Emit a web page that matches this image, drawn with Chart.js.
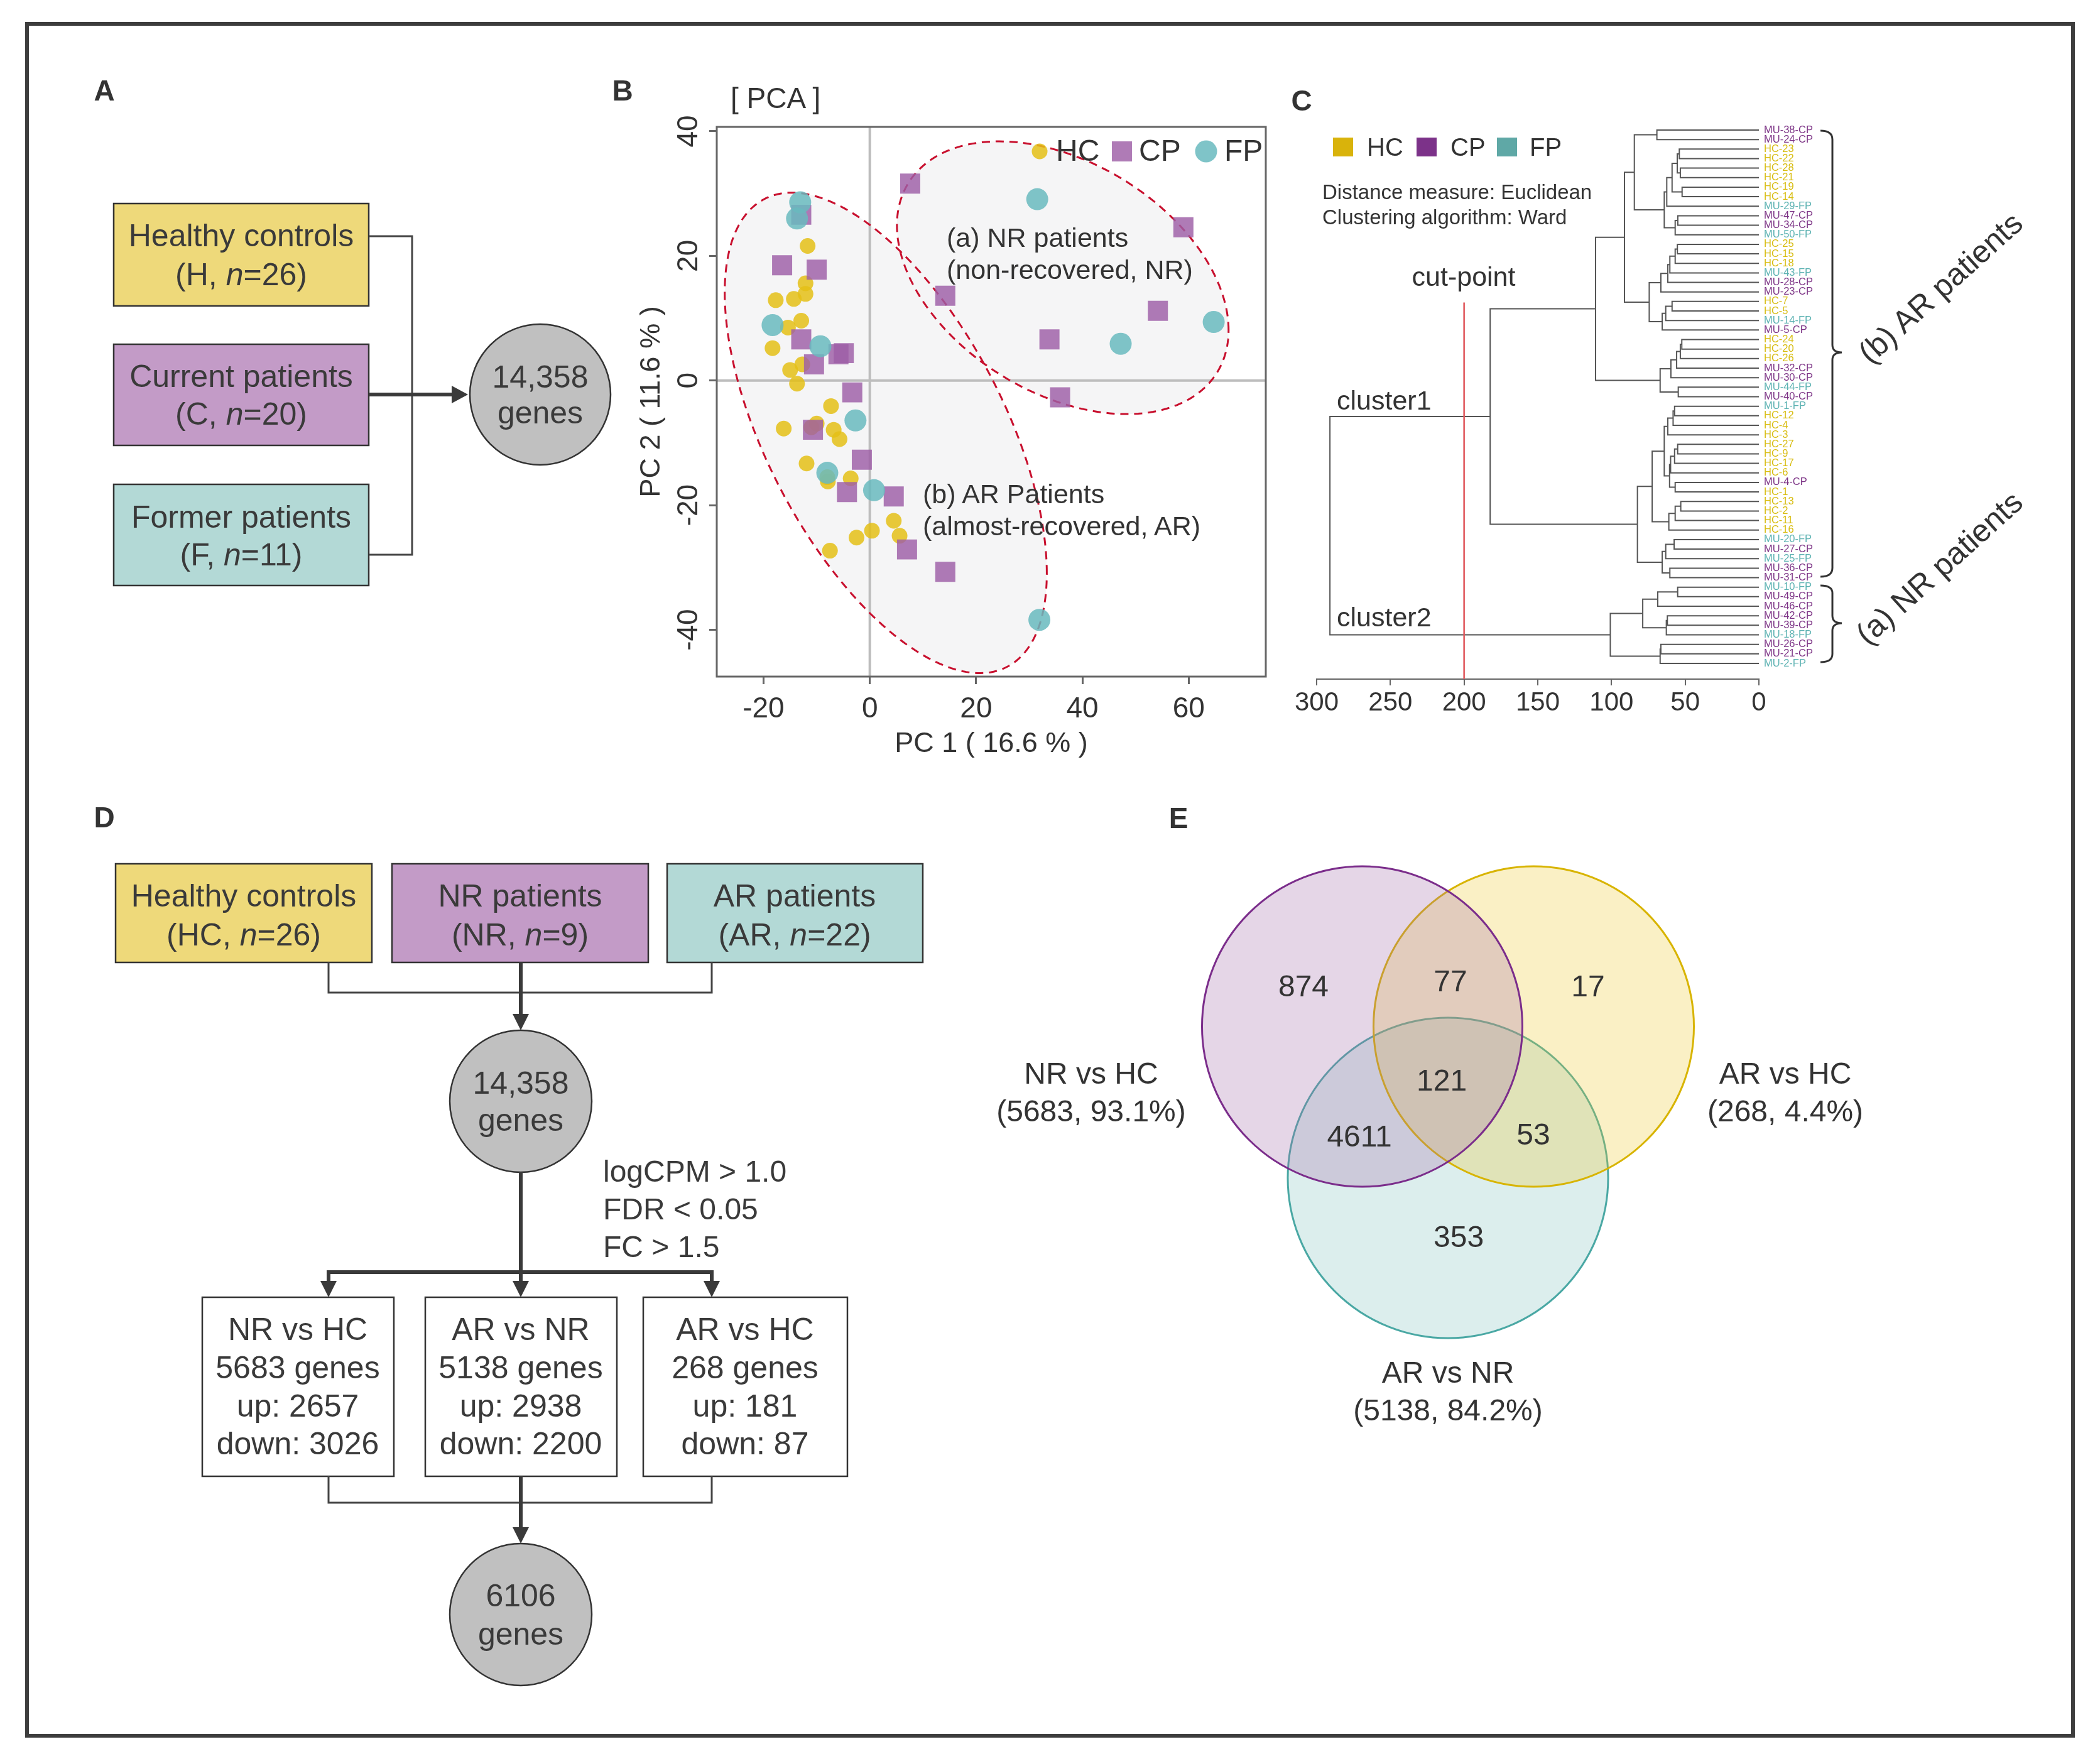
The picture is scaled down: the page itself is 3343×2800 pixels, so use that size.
<!DOCTYPE html>
<html>
<head>
<meta charset="utf-8">
<title>Transcriptome overview</title>
<script src="https://cdn.jsdelivr.net/npm/chart.js@4.4.1/dist/chart.umd.min.js"></script>
<style>
  html, body { margin: 0; padding: 0; background: #fff; }
  body { position: relative; width: 3343px; height: 2800px; overflow: hidden; font-family: "Liberation Sans", Arial, sans-serif; }
  canvas { position: absolute; }
  #deco { position: absolute; left: 0; top: 0; pointer-events: none; z-index: 2; }
</style>
</head>
<body>
<canvas id="pca-chart" width="1060" height="1110" style="left:990px;top:120px"></canvas>
<canvas id="dendro-chart" width="920" height="1001" style="left:2040px;top:180px"></canvas>
<canvas id="venn-chart" width="1650" height="1050" style="left:1500px;top:1290px"></canvas>

<svg id="deco" width="3343" height="2800" font-family="Liberation Sans, Arial, sans-serif" fill="#333">
  <!-- outer frame -->
  <rect x="43" y="38" width="3257" height="2725" fill="none" stroke="#3d3d3d" stroke-width="6"/>

  <!-- panel letters -->
  <g font-size="46" font-weight="bold" text-anchor="middle" fill="#333">
    <text x="166" y="160">A</text>
    <text x="991" y="160">B</text>
    <text x="2072" y="176">C</text>
    <text x="166" y="1317">D</text>
    <text x="1876" y="1318">E</text>
  </g>

  <!-- panel A -->
  <g stroke="#333" stroke-width="2.5">
    <rect x="181" y="324" width="406" height="163" fill="#eed97a"/>
    <rect x="181" y="548" width="406" height="161" fill="#c39bc7"/>
    <rect x="181" y="771" width="406" height="161" fill="#b3d9d6"/>
    <circle cx="860" cy="628" r="112" fill="#c0c0c0"/>
  </g>
  <polyline points="587,376 656,376 656,883 587,883" fill="none" stroke="#444" stroke-width="3"/>
  <line x1="587" y1="628" x2="722" y2="628" stroke="#3a3a3a" stroke-width="6"/>
  <polygon points="745,628 719,614 719,642" fill="#3a3a3a"/>
  <g font-size="50" text-anchor="middle" fill="#3a3a3a">
    <text x="384" y="392">Healthy controls</text>
    <text x="384" y="454">(H, <tspan font-style="italic">n</tspan>=26)</text>
    <text x="384" y="616">Current patients</text>
    <text x="384" y="676">(C, <tspan font-style="italic">n</tspan>=20)</text>
    <text x="384" y="840">Former patients</text>
    <text x="384" y="900">(F, <tspan font-style="italic">n</tspan>=11)</text>
    <text x="860" y="617">14,358</text>
    <text x="860" y="674">genes</text>
  </g>

  <!-- panel B texts -->
  <text x="1163" y="172" font-size="46" fill="#333">[ PCA ]</text>
  <g font-size="43" fill="#333">
    <text x="1507" y="393">(a) NR patients</text>
    <text x="1507" y="444">(non-recovered, NR)</text>
    <text x="1469" y="801">(b) AR Patients</text>
    <text x="1469" y="852">(almost-recovered, AR)</text>
  </g>

  <!-- panel C texts -->
  <rect x="2122" y="219" width="32" height="30" fill="#d9b30b"/>
  <rect x="2255" y="219" width="32" height="30" fill="#7c3289"/>
  <rect x="2383" y="219" width="32" height="30" fill="#5fa8a6"/>
  <g font-size="40" fill="#333">
    <text x="2176" y="248">HC</text>
    <text x="2309" y="248">CP</text>
    <text x="2435" y="248">FP</text>
  </g>
  <g font-size="33" fill="#333">
    <text x="2105" y="317">Distance measure: Euclidean</text>
    <text x="2105" y="357">Clustering algorithm: Ward</text>
  </g>
  <g font-size="43" fill="#333">
    <text x="2330" y="455" text-anchor="middle">cut-point</text>
    <text x="2128" y="652">cluster1</text>
    <text x="2128" y="997">cluster2</text>
  </g>
  <g fill="none" stroke="#333" stroke-width="3">
    <path d="M2898 208 Q2917 208 2917 222 L2917 549 Q2917 561 2932 561 Q2917 561 2917 573 L2917 904 Q2917 918 2898 918"/>
    <path d="M2898 932 Q2917 932 2917 944 L2917 980 Q2917 992 2932 992 Q2917 992 2917 1004 L2917 1041 Q2917 1054 2898 1054"/>
  </g>
  <g font-size="50" fill="#333" text-anchor="middle">
    <text transform="translate(3089,458) rotate(-42)" x="0" y="17">(b) AR patients</text>
    <text transform="translate(3087,904) rotate(-42)" x="0" y="17">(a) NR patients</text>
  </g>

  <!-- panel D -->
  <g stroke="#333" stroke-width="2.5">
    <rect x="184" y="1375" width="408" height="157" fill="#eed97a"/>
    <rect x="624" y="1375" width="408" height="157" fill="#c39bc7"/>
    <rect x="1062" y="1375" width="407" height="157" fill="#b3d9d6"/>
    <rect x="322" y="2065" width="305" height="285" fill="#fff"/>
    <rect x="677" y="2065" width="305" height="285" fill="#fff"/>
    <rect x="1024" y="2065" width="325" height="285" fill="#fff"/>
    <circle cx="829" cy="1753" r="113" fill="#c0c0c0"/>
    <circle cx="829" cy="2570" r="113" fill="#c0c0c0"/>
  </g>
  <g fill="none" stroke="#444" stroke-width="3">
    <polyline points="523,1532 523,1580 1133,1580 1133,1532"/>
    <polyline points="523,2350 523,2392 1133,2392 1133,2350"/>
  </g>
  <g stroke="#3a3a3a" stroke-width="6" fill="none">
    <line x1="829" y1="1532" x2="829" y2="1616"/>
    <line x1="829" y1="1866" x2="829" y2="2025"/>
    <line x1="520" y1="2025" x2="1136" y2="2025"/>
    <line x1="523" y1="2025" x2="523" y2="2042"/>
    <line x1="829" y1="2025" x2="829" y2="2042"/>
    <line x1="1133" y1="2025" x2="1133" y2="2042"/>
    <line x1="829" y1="2350" x2="829" y2="2433"/>
  </g>
  <g fill="#3a3a3a">
    <polygon points="816,1614 842,1614 829,1640"/>
    <polygon points="510,2039 536,2039 523,2065"/>
    <polygon points="816,2039 842,2039 829,2065"/>
    <polygon points="1120,2039 1146,2039 1133,2065"/>
    <polygon points="816,2431 842,2431 829,2457"/>
  </g>
  <g font-size="50" text-anchor="middle" fill="#3a3a3a">
    <text x="388" y="1443">Healthy controls</text>
    <text x="388" y="1505">(HC, <tspan font-style="italic">n</tspan>=26)</text>
    <text x="828" y="1443">NR patients</text>
    <text x="828" y="1505">(NR, <tspan font-style="italic">n</tspan>=9)</text>
    <text x="1265" y="1443">AR patients</text>
    <text x="1265" y="1505">(AR, <tspan font-style="italic">n</tspan>=22)</text>
    <text x="829" y="1741">14,358</text>
    <text x="829" y="1800">genes</text>
    <text x="474" y="2133">NR vs HC</text>
    <text x="474" y="2194">5683 genes</text>
    <text x="474" y="2255">up: 2657</text>
    <text x="474" y="2315">down: 3026</text>
    <text x="829" y="2133">AR vs NR</text>
    <text x="829" y="2194">5138 genes</text>
    <text x="829" y="2255">up: 2938</text>
    <text x="829" y="2315">down: 2200</text>
    <text x="1186" y="2133">AR vs HC</text>
    <text x="1186" y="2194">268 genes</text>
    <text x="1186" y="2255">up: 181</text>
    <text x="1186" y="2315">down: 87</text>
    <text x="829" y="2557">6106</text>
    <text x="829" y="2618">genes</text>
  </g>
  <g font-size="48" fill="#3a3a3a">
    <text x="960" y="1881">logCPM &gt; 1.0</text>
    <text x="960" y="1941">FDR &lt; 0.05</text>
    <text x="960" y="2001">FC &gt; 1.5</text>
  </g>
</svg>

<script>
// ---- data: PCA scores (PC1, PC2) ----
const hcPC = [
  [-11.7, 21.6], [-12.1, 15.6], [-17.7, 12.9], [-14.3, 13.1], [-12.1, 13.9], [-12.9, 9.6],
  [-15.4, 8.5], [-18.3, 5.2], [-15.0, 1.7], [-12.7, 2.6], [-13.7, -0.5], [-7.3, -4.1],
  [-16.2, -7.7], [-10.0, -6.9], [-6.8, -7.9], [-5.7, -9.4], [-11.9, -13.3], [-7.9, -16.2],
  [-3.6, -15.7], [4.5, -22.5], [5.6, -24.9], [0.4, -24.1], [-2.5, -25.2], [-7.5, -27.3],
  [-11.0, -7.5], [-8.0, -15.5]
];
const cpPC = [
  [7.6, 31.6], [59.0, 24.6], [-16.5, 18.5], [-10.0, 17.8], [14.2, 13.6], [54.2, 11.2],
  [33.8, 6.6], [-12.9, 6.6], [-5.9, 4.2], [-4.9, 4.4], [-10.5, 2.6], [-12.9, 26.6],
  [-3.3, -1.9], [35.8, -2.7], [-10.7, -7.9], [-1.5, -12.7], [-4.3, -17.9], [4.5, -18.6],
  [7.0, -27.1], [14.2, -30.7]
];
const fpPC = [
  [31.5, 29.1], [-13.1, 28.6], [-13.7, 26.0], [-18.3, 8.9], [-9.3, 5.5], [47.2, 5.9],
  [64.7, 9.4], [-2.7, -6.4], [-8.0, -14.8], [0.8, -17.6], [31.9, -38.4]
];
const pcaXTicks = [-20, 0, 20, 40, 60];
const pcaYTicks = [-40, -20, 0, 20, 40];
// group ellipses: centre and two conjugate half-axes, in PC units
const groupEllipses = [
  { c: [36.3, 16.5], a: [31.2, -8.4], b: [0, 20.2] },
  { c: [3.0, -8.4], a: [30.3, -22.5], b: [0, 31.3] }
];

// ---- data: dendrogram ----
const leafNames = [
  'MU-38-CP', 'MU-24-CP', 'HC-23', 'HC-22', 'HC-28', 'HC-21', 'HC-19', 'HC-14', 'MU-29-FP',
  'MU-47-CP', 'MU-34-CP', 'MU-50-FP', 'HC-25', 'HC-15', 'HC-18', 'MU-43-FP', 'MU-28-CP',
  'MU-23-CP', 'HC-7', 'HC-5', 'MU-14-FP', 'MU-5-CP', 'HC-24', 'HC-20', 'HC-26', 'MU-32-CP',
  'MU-30-CP', 'MU-44-FP', 'MU-40-CP', 'MU-1-FP', 'HC-12', 'HC-4', 'HC-3', 'HC-27', 'HC-9',
  'HC-17', 'HC-6', 'MU-4-CP', 'HC-1', 'HC-13', 'HC-2', 'HC-11', 'HC-16', 'MU-20-FP',
  'MU-27-CP', 'MU-25-FP', 'MU-36-CP', 'MU-31-CP', 'MU-10-FP', 'MU-49-CP', 'MU-46-CP',
  'MU-42-CP', 'MU-39-CP', 'MU-18-FP', 'MU-26-CP', 'MU-21-CP', 'MU-2-FP'
];
// merges: [child, child, height]; a string is a leaf, a number is an earlier merge
const merges = [
  ['MU-38-CP', 'MU-24-CP', 69.2], ['HC-23', 'HC-22', 54.0], ['HC-28', 'HC-21', 53.3], [1, 2, 55.4],
  ['HC-19', 'HC-14', 52.1], [3, 4, 58.9], [5, 'MU-29-FP', 62.5], ['MU-47-CP', 'MU-34-CP', 55.0],
  [7, 'MU-50-FP', 56.8], [6, 8, 64.2], [0, 9, 84.5],
  ['HC-25', 'HC-15', 55.3], [11, 'HC-18', 56.8], [12, 'MU-43-FP', 60.4], [13, 'MU-28-CP', 61.8],
  [14, 'MU-23-CP', 66.5],
  ['HC-7', 'HC-5', 58.9], [16, 'MU-14-FP', 63.2], [17, 'MU-5-CP', 65.6], [15, 18, 74.4], [10, 19, 91.2],
  ['HC-24', 'HC-20', 52.3], [21, 'HC-26', 53.3], [22, 'MU-32-CP', 55.8], [23, 'MU-30-CP', 59.7],
  ['MU-44-FP', 'MU-40-CP', 54.7], [24, 25, 67.0], [20, 26, 110.8],
  ['MU-1-FP', 'HC-12', 57.2], [28, 'HC-4', 58.2], [29, 'HC-3', 61.8],
  ['HC-27', 'HC-9', 55.1], [31, 'HC-17', 57.2], [32, 'HC-6', 59.9], ['MU-4-CP', 'HC-1', 56.8],
  [33, 34, 60.6], [30, 35, 64.2],
  ['HC-13', 'HC-2', 53.0], [37, 'HC-11', 56.8], [38, 'HC-16', 61.1], [36, 39, 72.4],
  ['MU-20-FP', 'MU-27-CP', 57.5], [41, 'MU-25-FP', 63.2], ['MU-36-CP', 'MU-31-CP', 60.4],
  [42, 43, 65.6], [40, 44, 82.4], [27, 45, 182.3],
  ['MU-10-FP', 'MU-49-CP', 55.1], [47, 'MU-46-CP', 68.6], ['MU-42-CP', 'MU-39-CP', 62.1],
  [49, 'MU-18-FP', 62.8], [48, 50, 78.8], ['MU-26-CP', 'MU-21-CP', 66.5], [52, 'MU-2-FP', 67.0],
  [51, 53, 100.8], [46, 54, 291]
];
const distTicks = [0, 50, 100, 150, 200, 250, 300];
const cutHeight = 200;

// ---- data: Venn ----
const vennSets = ['NR vs HC', 'AR vs HC', 'AR vs NR'];
const vennTotals = [5683, 268, 5138];
const vennPercents = ['93.1%', '4.4%', '84.2%'];
const vennCounts = [874, 77, 17, 121, 4611, 53, 353];

// ---- layout / style ----
Chart.defaults.font.family = '"Liberation Sans", Arial, sans-serif';
Chart.defaults.color = '#333';
Chart.defaults.animation = false;

const groupColours = { HC: '#d8bd12', CP: '#7d3486', FP: '#5cb2b2' };
function leafColour(name) {
  if (name.endsWith('-CP')) return groupColours.CP;
  if (name.endsWith('-FP')) return groupColours.FP;
  return groupColours.HC;
}

// PCA chart
function ellipsePath(ctx, xs, ys, e) {
  ctx.beginPath();
  for (let k = 0; k <= 240; k++) {
    const t = k / 240 * Math.PI * 2;
    const vx = e.c[0] + e.a[0] * Math.cos(t) + e.b[0] * Math.sin(t);
    const vy = e.c[1] + e.a[1] * Math.cos(t) + e.b[1] * Math.sin(t);
    const px = xs.getPixelForValue(vx), py = ys.getPixelForValue(vy);
    if (k === 0) ctx.moveTo(px, py); else ctx.lineTo(px, py);
  }
  ctx.closePath();
}

const pcaDecor = {
  id: 'pcaDecor',
  beforeDatasetsDraw(chart) {
    const { ctx, chartArea: a, scales: { x, y } } = chart;
    ctx.save();
    ctx.beginPath();
    ctx.rect(a.left, a.top, a.width, a.height);
    ctx.clip();
    groupEllipses.forEach(e => { ellipsePath(ctx, x, y, e); ctx.fillStyle = '#f5f5f6'; ctx.fill(); });
    // zero lines
    ctx.strokeStyle = '#bdbdbd';
    ctx.lineWidth = 4;
    ctx.beginPath();
    ctx.moveTo(x.getPixelForValue(0), a.top); ctx.lineTo(x.getPixelForValue(0), a.bottom);
    ctx.moveTo(a.left, y.getPixelForValue(0)); ctx.lineTo(a.right, y.getPixelForValue(0));
    ctx.stroke();
    ctx.setLineDash([13, 9]);
    ctx.strokeStyle = '#c8102e';
    ctx.lineWidth = 3;
    groupEllipses.forEach(e => { ellipsePath(ctx, x, y, e); ctx.stroke(); });
    ctx.restore();
  },
  afterDraw(chart) {
    const { ctx, chartArea: a, scales: { y } } = chart;
    ctx.save();
    ctx.strokeStyle = '#666';
    ctx.lineWidth = 3;
    ctx.strokeRect(a.left, a.top, a.width, a.height);
    // y tick labels, turned like the axis
    ctx.fillStyle = '#333';
    ctx.font = '46px "Liberation Sans", Arial, sans-serif';
    ctx.textAlign = 'center';
    ctx.textBaseline = 'middle';
    y.ticks.forEach(t => {
      ctx.save();
      ctx.translate(105, y.getPixelForValue(t.value));
      ctx.rotate(-Math.PI / 2);
      ctx.fillText(String(t.value), 0, 2);
      ctx.restore();
    });
    // legend, top right inside the plot
    const legendY = 121;
    const items = [
      { ds: chart.data.datasets[2], mx: 665, tx: 691 },
      { ds: chart.data.datasets[1], mx: 796, tx: 823 },
      { ds: chart.data.datasets[0], mx: 930, tx: 959 }
    ];
    ctx.font = '48px "Liberation Sans", Arial, sans-serif';
    ctx.textAlign = 'left';
    items.forEach(it => {
      ctx.fillStyle = it.ds.backgroundColor;
      const r = it.ds.pointRadius;
      if (it.ds.pointStyle === 'rect') {
        const s = r * Math.SQRT1_2;
        ctx.fillRect(it.mx - s, legendY - s, 2 * s, 2 * s);
      } else {
        ctx.beginPath(); ctx.arc(it.mx, legendY, r, 0, Math.PI * 2); ctx.fill();
      }
      ctx.fillStyle = '#333';
      ctx.fillText(it.ds.label, it.tx, legendY + 2);
    });
    ctx.restore();
  }
};

const toXY = ([x, y]) => ({ x, y });

new Chart(document.getElementById('pca-chart'), {
  type: 'scatter',
  data: {
    datasets: [
      { label: 'FP', data: fpPC.map(toXY), order: 1, pointStyle: 'circle', pointRadius: 17.5,
        backgroundColor: 'rgba(104,186,190,0.85)', borderWidth: 0 },
      { label: 'CP', data: cpPC.map(toXY), order: 2, pointStyle: 'rect', pointRadius: 22.6,
        backgroundColor: 'rgba(158,94,166,0.82)', borderWidth: 0 },
      { label: 'HC', data: hcPC.map(toXY), order: 3, pointStyle: 'circle', pointRadius: 12.5,
        backgroundColor: 'rgba(228,192,22,0.85)', borderWidth: 0 }
    ]
  },
  options: {
    responsive: false,
    layout: { padding: { left: 0, top: 82, right: 35, bottom: 0 }, autoPadding: false },
    plugins: { legend: { display: false }, tooltip: { enabled: false } },
    scales: {
      x: {
        type: 'linear', min: -28.8, max: 74.5,
        afterBuildTicks: s => { s.ticks = pcaXTicks.map(v => ({ value: v })); },
        afterFit: s => { s.height = 153; },
        grid: { display: true, drawOnChartArea: false, drawTicks: true, tickLength: 12, color: '#666', lineWidth: 3 },
        border: { display: false },
        ticks: { font: { size: 46 }, color: '#333', padding: 13, autoSkip: false, maxRotation: 0 },
        title: { display: true, text: 'PC 1 ( 16.6 % )', font: { size: 45 }, color: '#333', padding: { top: 0, bottom: 18 } }
      },
      y: {
        type: 'linear', min: -47.5, max: 40.7,
        afterBuildTicks: s => { s.ticks = pcaYTicks.map(v => ({ value: v })); },
        afterFit: s => { s.width = 151; },
        grid: { display: true, drawOnChartArea: false, drawTicks: true, tickLength: 12, color: '#666', lineWidth: 3 },
        border: { display: false },
        ticks: { display: false },
        title: { display: true, text: 'PC 2 ( 11.6 % )', font: { size: 45 }, color: '#333', padding: { top: 21, bottom: 0 } }
      }
    }
  },
  plugins: [pcaDecor]
});

// Dendrogram chart
const leafIndex = Object.fromEntries(leafNames.map((n, i) => [n, i]));
const nodePos = [];
function childPos(c) {
  return typeof c === 'string' ? { y: leafIndex[c], h: 0 } : nodePos[c];
}
const treeSets = merges.map(([a, b, h]) => {
  const pa = childPos(a), pb = childPos(b);
  nodePos.push({ y: (pa.y + pb.y) / 2, h });
  return {
    data: [{ x: pa.h, y: pa.y }, { x: h, y: pa.y }, { x: h, y: pb.y }, { x: pb.h, y: pb.y }],
    showLine: true, borderColor: '#555', borderWidth: 2, pointRadius: 0, tension: 0, fill: false
  };
});

const cutLine = {
  id: 'cutLine',
  afterDatasetsDraw(chart) {
    const { ctx, chartArea: a, scales: { x, y } } = chart;
    const px = x.getPixelForValue(cutHeight);
    ctx.save();
    ctx.strokeStyle = '#e0575b';
    ctx.lineWidth = 2.5;
    ctx.beginPath();
    ctx.moveTo(px, y.getPixelForValue(18.1));
    ctx.lineTo(px, a.bottom);
    ctx.stroke();
    ctx.restore();
  }
};

new Chart(document.getElementById('dendro-chart'), {
  type: 'scatter',
  data: { datasets: treeSets },
  options: {
    responsive: false,
    layout: { padding: { left: 56, top: 19.4, right: 0, bottom: 0 }, autoPadding: false },
    plugins: { legend: { display: false }, tooltip: { enabled: false } },
    scales: {
      x: {
        type: 'linear', reverse: true, min: 0, max: 300,
        afterBuildTicks: s => { s.ticks = distTicks.map(v => ({ value: v })); },
        afterFit: s => { s.height = 100; },
        grid: { display: true, drawOnChartArea: false, drawTicks: true, tickLength: 10, color: '#666', lineWidth: 2 },
        border: { display: true, color: '#666', width: 2 },
        ticks: { font: { size: 42 }, color: '#333', padding: 3, autoSkip: false, maxRotation: 0 }
      },
      y: {
        type: 'linear', position: 'right', reverse: true, min: -0.5, max: 57.65,
        afterBuildTicks: s => { s.ticks = leafNames.map((_, i) => ({ value: i })); },
        afterFit: s => { s.width = 160; },
        grid: { display: false, drawTicks: false },
        border: { display: false },
        ticks: {
          autoSkip: false, padding: 8, font: { size: 16.5, lineHeight: 1 },
          callback: v => leafNames[v],
          color: c => (c.tick ? leafColour(leafNames[c.tick.value]) : '#333')
        }
      }
    }
  },
  plugins: [cutLine]
});

// Venn chart
const vennCentres = [[-1, 0], [1, 0], [0, -1.766]];
const vennRadius = 255;
const vennFills = ['rgba(160,106,168,0.28)', 'rgba(235,200,40,0.27)', 'rgba(80,170,165,0.2)'];
const vennStrokes = ['#7b2d8b', '#d8b400', '#4aa8a4'];
const vennCountPos = [[-1.685, 0.447], [0.029, 0.505], [1.634, 0.447], [-0.073, -0.652],
  [-1.033, -1.304], [0.996, -1.282], [0.125, -2.476]];
const vennSetLabelPos = [[-4.161, -0.571], [3.934, -0.571], [0, -4.059]];

const vennText = {
  id: 'vennText',
  afterDatasetsDraw(chart) {
    const { ctx, scales: { x, y } } = chart;
    ctx.save();
    ctx.fillStyle = '#333';
    ctx.textAlign = 'center';
    ctx.textBaseline = 'middle';
    ctx.font = '48px "Liberation Sans", Arial, sans-serif';
    vennCounts.forEach((n, i) => {
      ctx.fillText(String(n), x.getPixelForValue(vennCountPos[i][0]), y.getPixelForValue(vennCountPos[i][1]));
    });
    vennSets.forEach((name, i) => {
      const px = x.getPixelForValue(vennSetLabelPos[i][0]);
      const py = y.getPixelForValue(vennSetLabelPos[i][1]);
      ctx.fillText(name, px, py);
      ctx.fillText('(' + vennTotals[i] + ', ' + vennPercents[i] + ')', px, py + 60);
    });
    ctx.restore();
  }
};

new Chart(document.getElementById('venn-chart'), {
  type: 'bubble',
  data: {
    datasets: vennSets.map((name, i) => ({
      label: name,
      data: [{ x: vennCentres[i][0], y: vennCentres[i][1], r: vennRadius }],
      backgroundColor: vennFills[i], borderColor: vennStrokes[i], borderWidth: 3, clip: false
    }))
  },
  options: {
    responsive: false,
    layout: { padding: 0, autoPadding: false },
    plugins: { legend: { display: false }, tooltip: { enabled: false } },
    scales: {
      x: { type: 'linear', display: false, min: -5.897, max: 6.190 },
      y: { type: 'linear', display: false, min: -5.172, max: 2.520 }
    }
  },
  plugins: [vennText]
});
</script>
</body>
</html>
